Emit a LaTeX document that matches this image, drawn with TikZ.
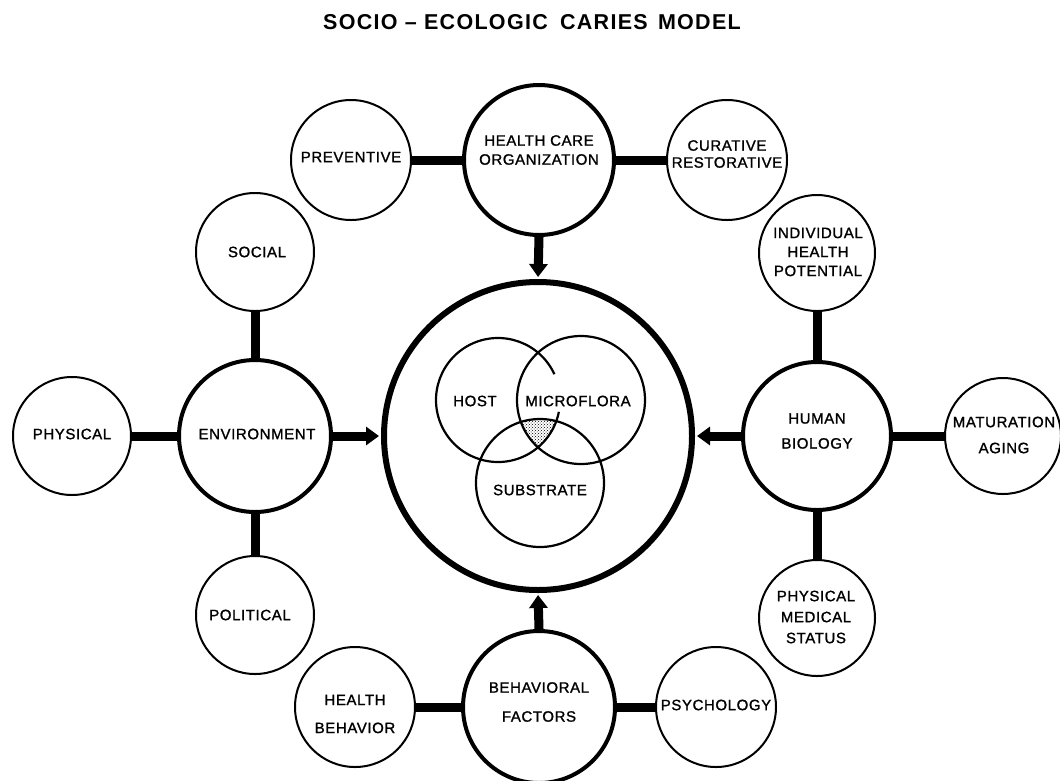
\documentclass[tikz,border=0pt]{standalone}
\usepackage{fontspec}
\setmainfont{Liberation Sans}
\newfontfamily\lblfont{Liberation Sans}[FakeBold=1.3,LetterSpace=4]
\newfontfamily\ttlfont{Liberation Sans}[LetterSpace=6]
\usetikzlibrary{arrows.meta,patterns}
\tikzset{
  sat/.style={circle,draw,line width=2pt,minimum size=#1,inner sep=0pt},
  cat/.style={circle,draw,line width=4pt,minimum size=#1,inner sep=0pt},
  txt/.style={align=center,inner sep=0pt,font=\fontsize{15}{#1}\selectfont\lblfont},
  txt/.default=19,
  bar/.style={line width=9pt},
  feed/.style={line width=9pt,-{Triangle[width=18pt,length=13pt]},shorten >=2pt},
  venn/.style={line width=2.2pt}
}
\begin{document}
\begin{tikzpicture}[x=1pt,y=-1pt]
\useasboundingbox (0,0) rectangle (1060,780);
% title
\node[font=\fontsize{21.5}{25}\selectfont\ttlfont\bfseries] (title) at (532,22) {SOCIO \textendash{} ECOLOGIC\hspace{5pt} CARIES\hspace{3pt} MODEL};
% central circle
\node[circle,draw,line width=6pt,minimum size=308pt,inner sep=0pt] (big) at (538,436) {};
% category circles
\node[cat=150pt] (hco) at (539,160) {};
\node[cat=152pt] (env) at (255,436) {};
\node[cat=148pt] (hb) at (817,436) {};
\node[cat=152pt] (bf) at (539,707) {};
% satellite circles
\node[sat=120pt] (prev) at (351,160) {};
\node[sat=120pt] (cur) at (727,160) {};
\node[sat=118pt] (social) at (255,252) {};
\node[sat=118pt] (phys) at (72,436) {};
\node[sat=118pt] (pol) at (255,615) {};
\node[sat=116pt] (indiv) at (817,253) {};
\node[sat=116pt] (mat) at (1003,436) {};
\node[sat=116pt] (pms) at (817,618) {};
\node[sat=120pt] (hbeh) at (355,707) {};
\node[sat=120pt] (psy) at (716,707) {};
% connectors
\draw[bar] (prev.east) -- (hco.west);
\draw[bar] (hco.east) -- (cur.west);
\draw[bar] (social.south) -- (env.north);
\draw[bar] (env.south) -- (pol.north);
\draw[bar] (phys.east) -- (env.west);
\draw[bar] (indiv.south) -- (hb.north);
\draw[bar] (hb.south) -- (pms.north);
\draw[bar] (hb.east) -- (mat.west);
\draw[bar] (hbeh.east) -- (bf.west);
\draw[bar] (bf.east) -- (psy.west);
\draw[feed] (hco.south) -- (big.north);
\draw[feed] (env.east) -- (big.west);
\draw[feed] (hb.west) -- (big.east);
\draw[feed] (bf.north) -- (big.south);
% venn diagram
\coordinate (hostc) at (498,400);
\coordinate (microc) at (581,400);
\coordinate (subc) at (540,483);
\begin{scope}
  \clip (hostc) circle[radius=62pt];
  \clip (microc) circle[radius=64pt];
  \fill[pattern=crosshatch dots] (subc) circle[radius=64pt];
\end{scope}
\draw[venn] (microc) circle[radius=64pt];
\draw[venn] (subc) circle[radius=64pt];
\draw[venn] (hostc) ++(24.6:62pt) arc[start angle=24.6,end angle=349,radius=62pt];
% labels
\node[txt] (tprev) at (351,157) {PREVENTIVE};
\node[txt] (thco) at (539,150) {HEALTH CARE\\ORGANIZATION};
\node[txt=17] (tcur) at (727,154) {CURATIVE\\RESTORATIVE};
\node[txt] (tsocial) at (257,252) {SOCIAL};
\node[txt] (tenv) at (257,434) {ENVIRONMENT};
\node[txt] (tphys) at (72,434) {PHYSICAL};
\node[txt] (tpol) at (250,615) {POLITICAL};
\node[txt] (tindiv) at (818,252) {INDIVIDUAL\\HEALTH\\POTENTIAL};
\node[txt=25] (thb) at (817,431) {HUMAN\\BIOLOGY};
\node[txt=26] (tmat) at (1004,435) {MATURATION\\AGING};
\node[txt=21] (tpms) at (816,617) {PHYSICAL\\MEDICAL\\STATUS};
\node[txt=28] (thbeh) at (355,714) {HEALTH\\BEHAVIOR};
\node[txt=29] (tbf) at (539,702) {BEHAVIORAL\\FACTORS};
\node[txt] (tpsy) at (716,705) {PSYCHOLOGY};
\node[txt] (thost) at (475,401) {HOST};
\node[txt] (tmicro) at (578,401) {MICROFLORA};
\node[txt] (tsub) at (540,490) {SUBSTRATE};
\end{tikzpicture}
\end{document}
